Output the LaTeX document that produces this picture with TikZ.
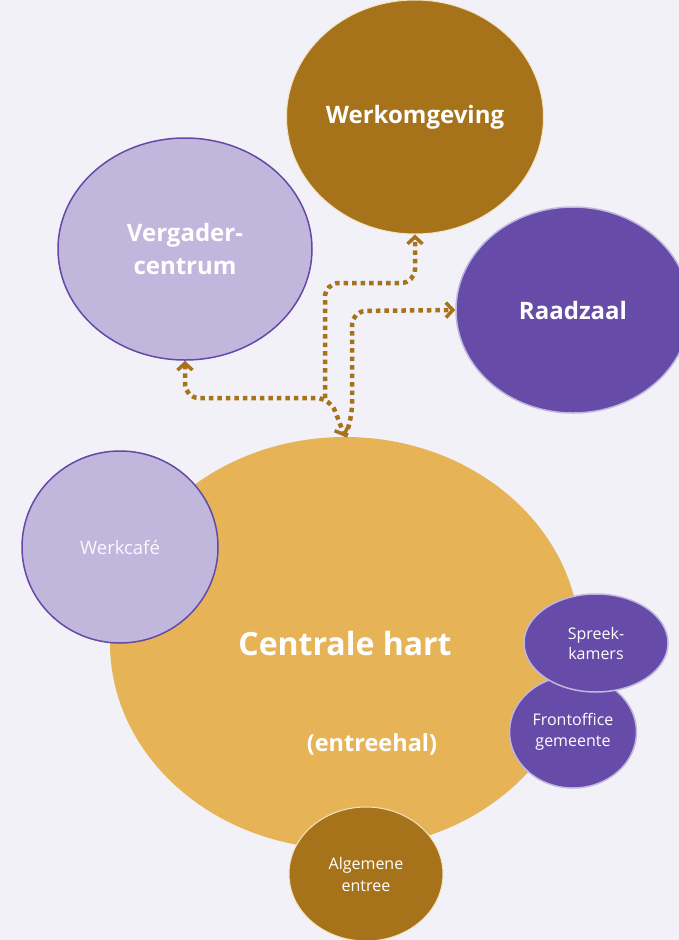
\documentclass[tikz,border=0pt]{standalone}
\usepackage{fontspec}
\setmainfont{Open Sans}
\usetikzlibrary{shapes.geometric,arrows.meta}
\definecolor{pageBg}{HTML}{F2F1F8}
\definecolor{ochreDark}{HTML}{A6731B}
\definecolor{ochreLight}{HTML}{E6B456}
\definecolor{lilacLight}{HTML}{C1B7DD}
\definecolor{lilacDark}{HTML}{664BA9}
\definecolor{lilacEdge}{HTML}{6548A8}
\definecolor{creamEdge}{HTML}{F3E4C4}
\newcommand{\bubbleSize}[2]{\fontsize{#1}{#2}\selectfont}

\begin{document}
\begin{tikzpicture}[x=1pt,y=-1pt,
  bubble/.style={ellipse, inner sep=0pt, text=white, align=center},
  link/.style={draw=ochreDark, line width=4.5pt, dash pattern=on 4.5pt off 4pt,
    rounded corners=14pt, arrows={Straight Barb[length=7pt,width=15pt,line width=3.5pt]-Straight Barb[length=7pt,width=15pt,line width=3.5pt]}},
  linkend/.style={-{Straight Barb[length=7pt,width=15pt,line width=3.5pt]}}]
\fill[pageBg, use as bounding box] (0,0) rectangle (679,940);
\clip (0,0) rectangle (679,940);
% upper bubbles
\node[bubble, fill=ochreDark, draw=creamEdge, line width=1pt, minimum width=257, minimum height=234, font=\bfseries\bubbleSize{24}{32}] (werk) at (415,117) {Werkomgeving};
\node[bubble, fill=lilacLight, draw=lilacEdge, line width=1.5pt, minimum width=254, minimum height=222, font=\bfseries\bubbleSize{24}{33}] (verg) at (185,249) {Vergader-\\centrum};
\node[bubble, fill=lilacDark, draw=lilacLight, line width=1.5pt, minimum width=234, minimum height=206, font=\bfseries\bubbleSize{24}{32}] (raad) at (573,310) {Raadzaal};
% central hall with its satellites
\node[bubble, fill=ochreLight, minimum width=470, minimum height=412, font=\bfseries\bubbleSize{32}{40}] (hart) at (345,643) {Centrale hart};
\node[text=white, font=\bfseries\bubbleSize{23.5}{30}] (hal) at (372,744) {(entreehal)};
\node[bubble, fill=lilacLight, draw=lilacEdge, line width=1.5pt, minimum width=196, minimum height=192, text=white!92!lilacLight, font=\bubbleSize{18.5}{24}] (cafe) at (120,547) {Werkcafé};
\node[bubble, fill=lilacDark, draw=lilacLight, line width=1.5pt, minimum width=127, minimum height=112, font=\bubbleSize{16}{21}] (front) at (573,732) {Frontoffice\\gemeente};
\node[bubble, fill=lilacDark, draw=lilacLight, line width=1.5pt, minimum width=144, minimum height=98, font=\bubbleSize{16}{20}] (spreek) at (596,643) {Spreek-\\kamers};
\node[bubble, fill=ochreDark, draw=creamEdge, line width=1pt, minimum width=154, minimum height=134, font=\bubbleSize{16}{22}] (entree) at (366,874) {Algemene\\entree};
% connections
\coordinate (fork) at (325,398);
\coordinate (riser) at (352,418);
\draw[link] (verg.south) -- (185,398) -- (330,398) -- (hart.north);
\draw[link, linkend] (fork) -- (325,283) -- (415,283) -- (werk.south);
\draw[link, linkend] (hart.north) -- (riser) -- (352,311) -- (raad.west);
\end{tikzpicture}
\end{document}
